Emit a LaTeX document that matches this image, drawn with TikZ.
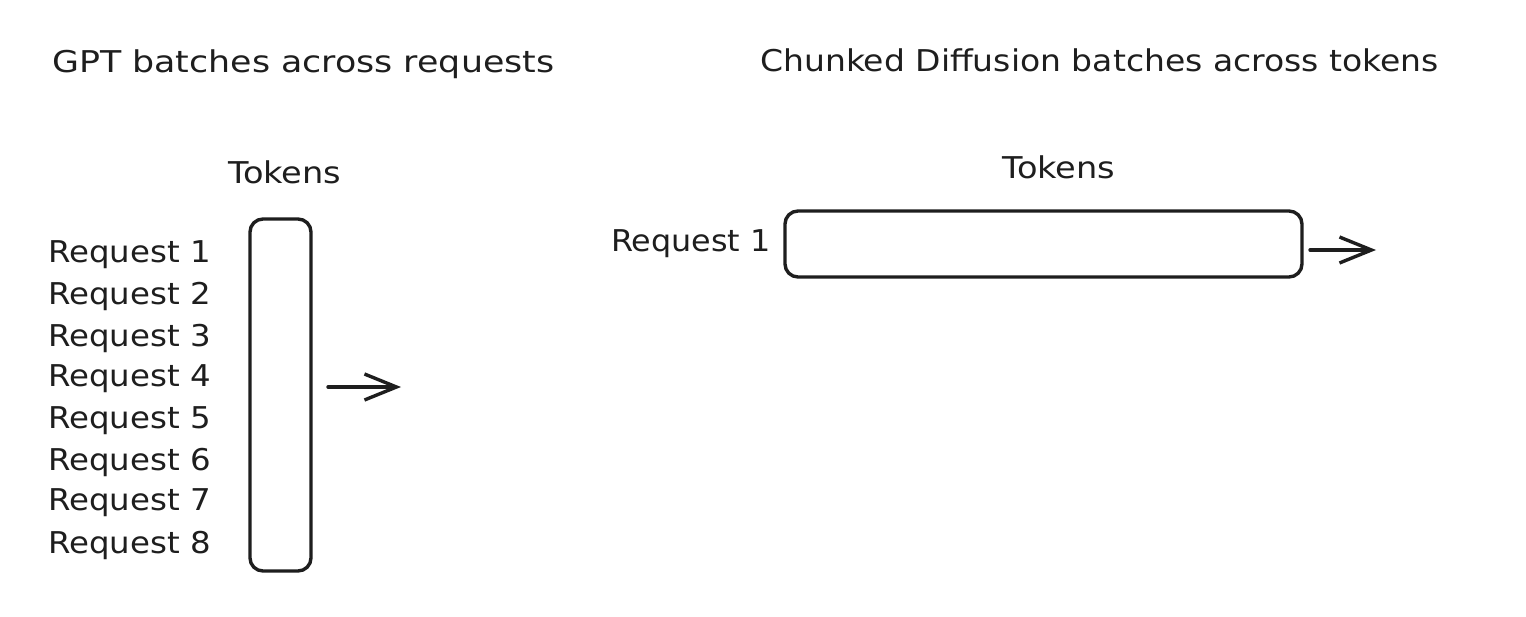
\documentclass[tikz,border=0pt]{standalone}
\usepackage{fontspec}
\setmainfont{DejaVu Sans}
\usetikzlibrary{arrows.meta}
\definecolor{ink}{HTML}{1E1E1E}
\newcommand{\sxw}[2]{\scalebox{#1}[1]{#2}}
\tikzset{
  lbl/.style={anchor=west, inner sep=0pt, text=ink, font=\fontsize{30}{36}\selectfont},
  tokbox/.style={draw=ink, line width=3.4pt, rounded corners=13pt, inner sep=0pt},
  flow/.style={draw=ink, line width=3.4pt, line cap=round, -{Straight Barb[length=32pt,width=26pt,line width=3.4pt]}}
}
\begin{document}
\begin{tikzpicture}[x=1pt,y=-1pt]
\useasboundingbox (0,0) rectangle (1526,616);
\fill[white] (0,0) rectangle (1526,616);
% titles
\node[lbl] (t1) at (52,64) {\sxw{1.16}{GPT batches across requests}};
\node[lbl] (t2) at (760,60) {\sxw{1.10}{Chunked Diffusion batches across tokens}};
\node[lbl] (tok1) at (228,172) {\sxw{1.12}{Tokens}};
\node[lbl] (tok2) at (1002,167) {\sxw{1.12}{Tokens}};
% left column
\node[tokbox, minimum width=61pt, minimum height=352pt] (col) at (280.5,395) {};
\foreach \i/\y in {1/255,2/296,3/338,4/379,5/421,6/462,7/503,8/545}{
  \node[lbl] (r\i) at (48,\y) {\sxw{1.08}{Request \i}};
}
\coordinate (a1s) at (328,387);
\coordinate (a1e) at (401,387);
\draw[flow] (a1s) -- (a1e);
% right row
\node[tokbox, minimum width=517pt, minimum height=66pt] (row) at (1043.5,244) {};
\node[lbl] (rr1) at (611,244) {\sxw{1.06}{Request 1}};
\coordinate (a2s) at (1310,250);
\coordinate (a2e) at (1376,250);
\draw[flow] (a2s) -- (a2e);
\end{tikzpicture}
\end{document}
